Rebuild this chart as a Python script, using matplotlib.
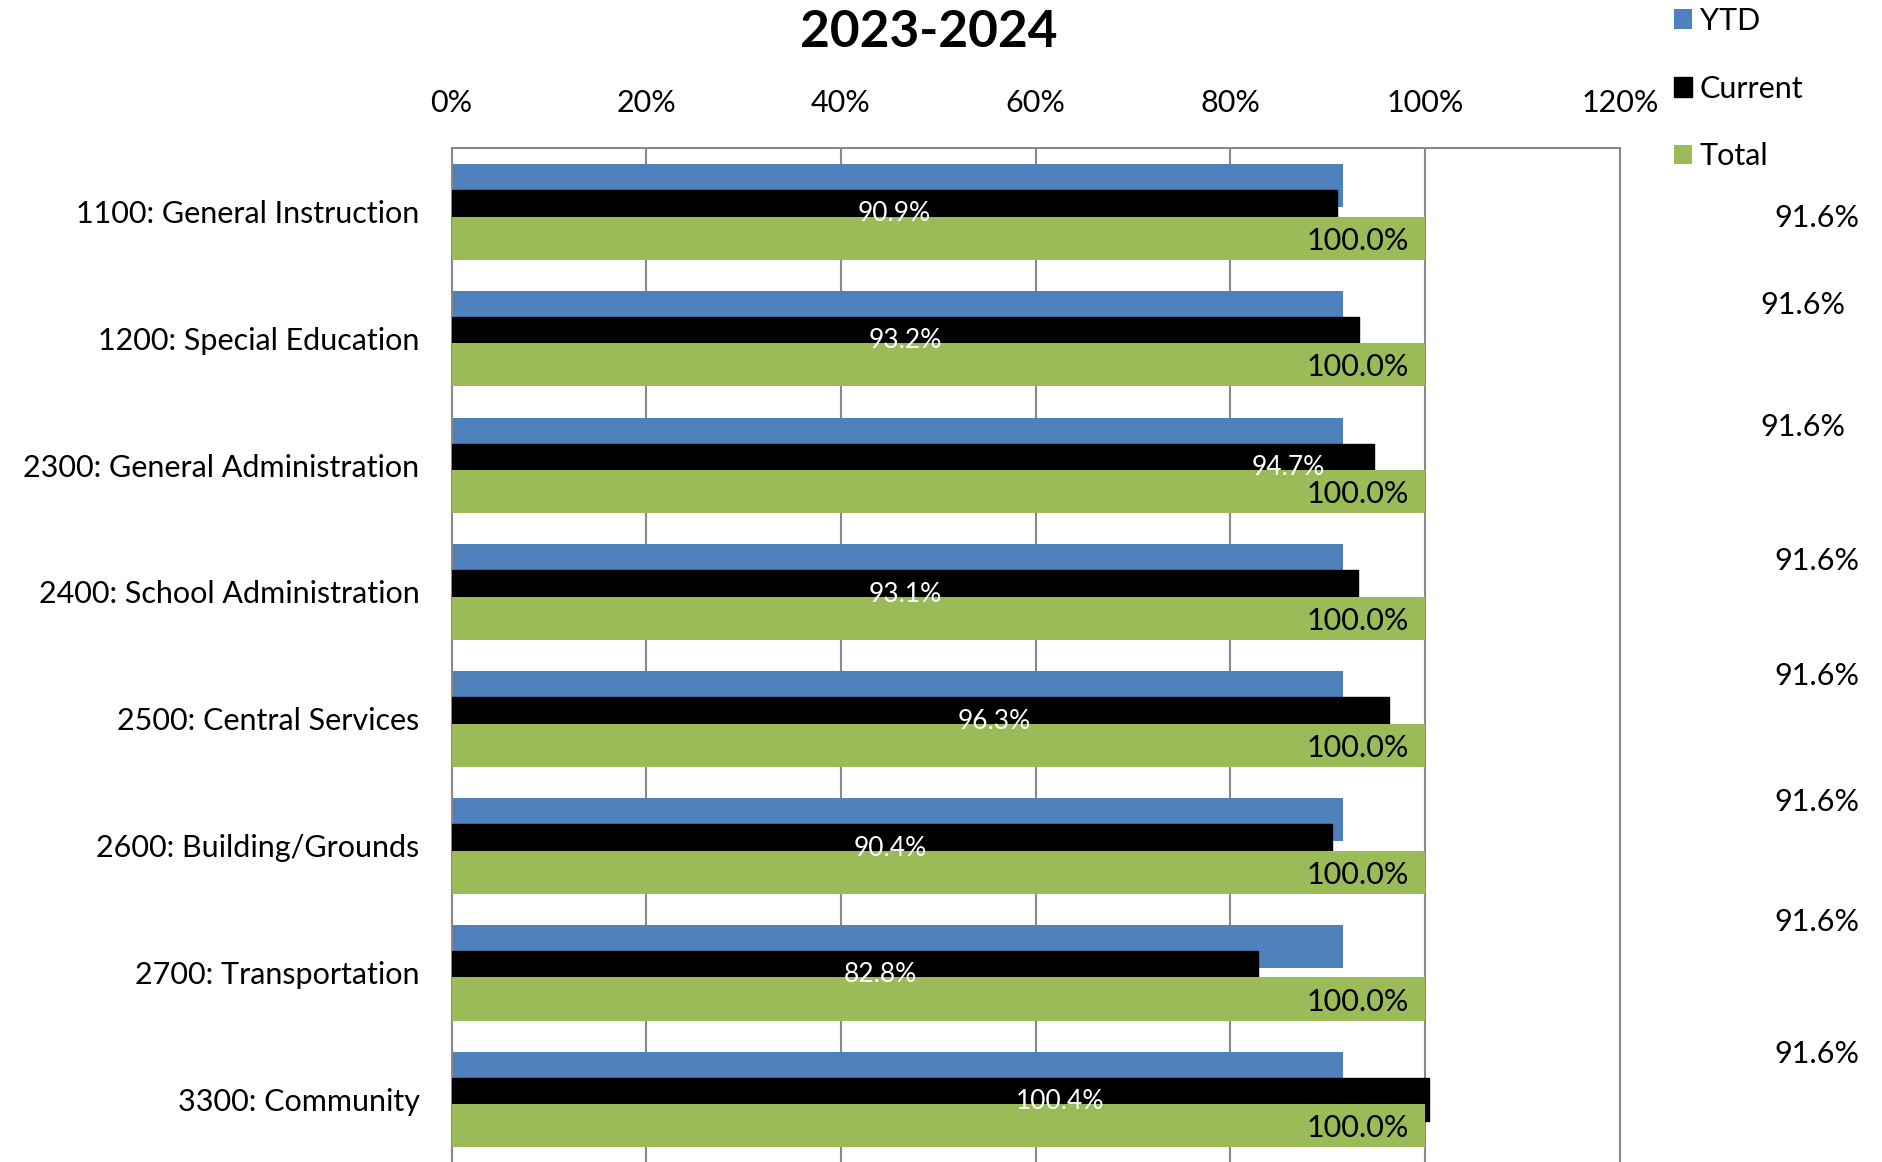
import matplotlib.pyplot as plt
import numpy as np

plt.rcParams['font.family'] = ['Lato', 'DejaVu Sans']

# budget categories and spending percentages
categories = ['1100: General Instruction', '1200: Special Education',
              '2300: General Administration', '2400: School Administration',
              '2500: Central Services', '2600: Building/Grounds',
              '2700: Transportation', '3300: Community']
ytd = [91.6, 91.6, 91.6, 91.6, 91.6, 91.6, 91.6, 91.6]
current = [90.9, 93.2, 94.7, 93.1, 96.3, 90.4, 82.8, 100.4]
total = [100.0, 100.0, 100.0, 100.0, 100.0, 100.0, 100.0, 100.0]

# hand-placed label spots (x in %, y offset in category units)
cur_label_x = [45.5, 46.6, 85.9, 46.6, 55.7, 45.1, 44.0, 62.5]
ytd_label_x = [140.2, 138.8, 138.8, 140.2, 140.2, 140.2, 140.2, 140.2]
ytd_label_dy = [0.05, -0.26, -0.30, -0.24, -0.34, -0.34, -0.40, -0.36]

blue = '#4F81BD'
green = '#9BBB59'
grid_col = '#898989'

fig = plt.figure(figsize=(18.83, 11.62), dpi=100)
ax = fig.add_axes([0.2398, -0.0005, 0.6205, 0.8731])

y = np.arange(len(categories))
h = 0.34
ax.barh(y - 0.205, ytd, h, color=blue, zorder=2, label='YTD')
ax.barh(y, current, h, color='black', edgecolor='black', linewidth=1, zorder=3, label='Current')
ax.barh(y + 0.21, total, h, color=green, zorder=4, label='Total')

for i in range(len(categories)):
    ax.text(cur_label_x[i], y[i] + 0.02, '%.1f%%' % current[i], color='white', fontsize=19,
            ha='center', va='center', zorder=5)
    ax.text(98.3, y[i] + 0.23, '%.1f%%' % total[i], color='black', fontsize=22,
            ha='right', va='center', zorder=5)
    ax.text(ytd_label_x[i], y[i] + ytd_label_dy[i], '%.1f%%' % ytd[i], color='black',
            fontsize=22, ha='center', va='center', clip_on=False)

ax.set_xlim(0, 120)
ax.set_ylim(len(categories) - 0.5, -0.5)
ax.set_xticks(np.arange(0, 121, 20))
ax.set_xticklabels(['%d%%' % v for v in range(0, 121, 20)])
ax.xaxis.tick_top()
ax.tick_params(axis='x', length=0, pad=22, labelsize=22)
ax.set_yticks(y)
ax.set_yticklabels(categories)
ax.tick_params(axis='y', length=0, pad=23, labelsize=22)

ax.grid(axis='x', color=grid_col, linewidth=1.5, zorder=0)
ax.set_axisbelow(True)
for side in ['left', 'top', 'right']:
    ax.spines[side].set_color(grid_col)
    ax.spines[side].set_linewidth(1.5)
ax.spines['bottom'].set_visible(False)

fig.text(0.4934, 0.972, '2023-2024', fontsize=37, fontweight='bold', ha='center', va='center')

fig.legend(loc='upper left', bbox_to_anchor=(0.889, 0.994), frameon=False, fontsize=22,
           handlelength=0.6, handleheight=0.6, handletextpad=0.25, labelspacing=1.3,
           borderpad=0, borderaxespad=0)

fig.savefig('out.png', dpi=100)
